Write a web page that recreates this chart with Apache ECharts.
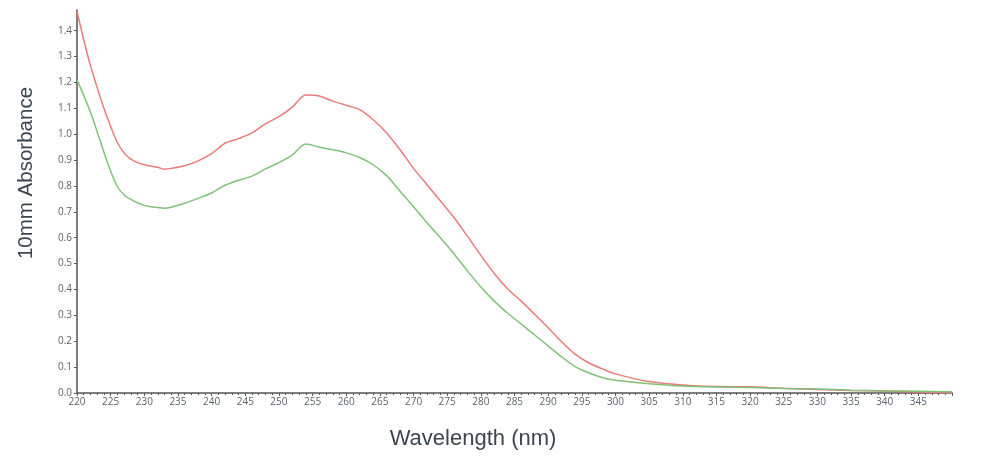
<!DOCTYPE html>
<html>
<head>
<meta charset="utf-8">
<title>Absorbance spectrum</title>
<script src="https://cdn.jsdelivr.net/npm/echarts@6/dist/echarts.min.js"></script>
<style>
  html, body { margin: 0; padding: 0; background: #fff; }
  #chart { width: 1000px; height: 467px; }
</style>
</head>
<body>
<div id="chart"></div>
<script>
// wavelengths in nm (1 nm steps on the steep start, then coarser)
const wavelengths = [
  220, 221, 222, 223, 224, 225, 226, 227, 228, 229, 230, 231, 232, 233, 234,
  236, 238, 240, 242, 244, 246, 248, 250, 252, 254, 256, 258, 260, 262, 264,
  266, 268, 270, 272, 274, 276, 278, 280, 282, 284, 286, 288, 290, 292, 294,
  296, 298, 300, 305, 310, 315, 320, 325, 330, 335, 340, 345, 350
]
// red trace
const redValues = [
  1.475, 1.365, 1.265, 1.18, 1.10, 1.03, 0.968, 0.928, 0.904, 0.89, 0.882, 0.877, 0.872, 0.865, 0.868,
  0.878, 0.897, 0.925, 0.965, 0.983, 1.005, 1.04, 1.068, 1.105, 1.152, 1.148, 1.128, 1.112, 1.095, 1.056,
  1.005, 0.94, 0.868, 0.805, 0.742, 0.678, 0.606, 0.532, 0.462, 0.402, 0.355, 0.304, 0.252, 0.198, 0.15,
  0.117, 0.094, 0.074, 0.044, 0.031, 0.025, 0.024, 0.018, 0.014, 0.010, 0.008, 0.004, 0.0
]
// green trace
const greenValues = [
  1.21, 1.15, 1.085, 1.01, 0.93, 0.857, 0.797, 0.765, 0.748, 0.735, 0.725, 0.72, 0.717, 0.714, 0.718,
  0.733, 0.752, 0.773, 0.803, 0.822, 0.838, 0.866, 0.89, 0.92, 0.962, 0.95, 0.94, 0.928, 0.91, 0.882,
  0.84, 0.78, 0.72, 0.658, 0.6, 0.538, 0.472, 0.41, 0.355, 0.308, 0.266, 0.224, 0.182, 0.14, 0.102,
  0.078, 0.06, 0.049, 0.036, 0.027, 0.023, 0.021, 0.017, 0.015, 0.011, 0.008, 0.007, 0.005
]

const axisColor = '#555'
const labelColor = '#5a636d'
const nameColor = '#3c4650'

function pairs(values) {
  return wavelengths.map((w, i) => [w, values[i]])
}

const chart = echarts.init(document.getElementById('chart'), null, { renderer: 'canvas' })

const option = {
  animation: false,
  grid: { left: 77, right: 48, top: 10, bottom: 74 },
  xAxis: {
    type: 'value',
    min: 220,
    max: 350,
    interval: 5,
    name: 'Wavelength (nm)',
    nameLocation: 'middle',
    nameGap: 35,
    nameTextStyle: {
      fontFamily: 'Liberation Sans',
      fontSize: 22,
      color: nameColor,
      padding: [0, 83, 0, 0]
    },
    axisLine: { onZero: false, lineStyle: { color: axisColor, width: 1.5 } },
    axisTick: { show: true, length: 3, lineStyle: { color: axisColor } },
    minorTick: { show: true, splitNumber: 5, length: 2, lineStyle: { color: axisColor } },
    axisLabel: {
      showMaxLabel: false,
      margin: 4,
      fontFamily: 'Open Sans',
      fontSize: 10,
      color: labelColor
    },
    splitLine: { show: false }
  },
  yAxis: {
    type: 'value',
    min: 0,
    max: 1.48,
    interval: 0.1,
    name: '10mm Absorbance',
    nameLocation: 'middle',
    nameRotate: 90,
    nameGap: 40,
    nameTextStyle: {
      fontFamily: 'Liberation Sans',
      fontSize: 20.5,
      color: nameColor,
      padding: [0, 0, 0, 57]
    },
    axisLine: { show: true, lineStyle: { color: axisColor, width: 1.5 } },
    axisTick: { show: true, length: 3, lineStyle: { color: axisColor } },
    axisLabel: {
      showMaxLabel: false,
      margin: 5,
      fontFamily: 'Open Sans',
      fontSize: 10,
      color: labelColor,
      formatter: v => v.toFixed(1)
    },
    splitLine: { show: false }
  },
  series: [
    {
      name: 'red',
      type: 'line',
      data: pairs(redValues),
      showSymbol: false,
      smooth: 0.3,
      lineStyle: { color: '#ea7b7b', width: 1.5 }
    },
    {
      name: 'green',
      type: 'line',
      data: pairs(greenValues),
      showSymbol: false,
      smooth: 0.3,
      lineStyle: { color: '#7fc278', width: 1.5 }
    }
  ]
}

chart.setOption(option)
</script>
</body>
</html>
